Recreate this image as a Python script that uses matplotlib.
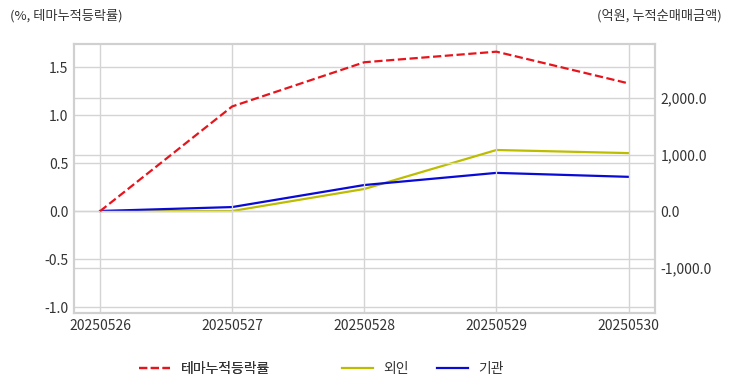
import matplotlib
matplotlib.use("Agg")
import matplotlib.pyplot as plt
import matplotlib.ticker as ticker

plt.rcParams['font.family'] = ['Noto Sans CJK KR', 'DejaVu Sans']

dates = ["20250526", "20250527", "20250528", "20250529", "20250530"]
theme_rate = [0.0, 1.09, 1.55, 1.66, 1.33]
foreign = [0.0, 0.0, 390.0, 1080.0, 1025.0]
institution = [0.0, 70.0, 460.0, 675.0, 605.0]

fig = plt.figure(figsize=(7.32, 3.92), dpi=100)
ax = fig.add_axes([74 / 732, 1 - 313 / 392, (655 - 74) / 732, (313 - 44) / 392])
ax2 = ax.twinx()

x = range(len(dates))
l1, = ax.plot(x, theme_rate, color='#e8141c', linestyle='--', linewidth=1.6, label='테마누적등락률')
l2, = ax2.plot(x, foreign, color='#bdbd00', linewidth=1.6, label='외인')
l3, = ax2.plot(x, institution, color='#0a0ad8', linewidth=1.6, label='기관')

ax.set_xlim(-0.197, 4.2)
ax.set_ylim(-1.06, 1.74)
ax2.set_ylim(-1805, 2956)
ax.set_xticks(list(x))
ax.set_xticklabels(dates)
ax.set_yticks([-1.0, -0.5, 0.0, 0.5, 1.0, 1.5])
ax.yaxis.set_major_formatter(ticker.FormatStrFormatter('%0.1f'))
ax2.set_yticks([-1000, 0, 1000, 2000])
ax2.yaxis.set_major_formatter(ticker.FuncFormatter(lambda v, p: '{:,.1f}'.format(v)))

for a in (ax, ax2):
    a.tick_params(length=0, labelsize=10, colors='#333333', pad=4)
    for s in a.spines.values():
        s.set_color('#d0d0d0')
        s.set_linewidth(1.5)
ax.grid(color='#d4d4d4', linewidth=1)
ax2.grid(axis='y', color='#d4d4d4', linewidth=1)
ax.set_zorder(ax2.get_zorder() + 1)
ax.patch.set_visible(False)

fig.text(10 / 732, 1 - 16 / 392, '(%, 테마누적등락률)', fontsize=9.5, color='#333333', va='center')
fig.text(722 / 732, 1 - 16 / 392, '(억원, 누적순매매금액)', fontsize=9.5, color='#333333', va='center', ha='right')

leg_kw = dict(frameon=False, fontsize=10, handlelength=2.2, handletextpad=0.8,
              labelcolor='#333333', borderpad=0, borderaxespad=0)
leg1 = fig.legend(handles=[l1], loc='center left', bbox_to_anchor=(139 / 732, 1 - 369 / 392), **leg_kw)
fig.legend(handles=[l2, l3], loc='center left', bbox_to_anchor=(342 / 732, 1 - 369 / 392),
           ncol=2, columnspacing=2.0, **leg_kw)
fig.add_artist(leg1)

fig.savefig('out.png', dpi=100)
